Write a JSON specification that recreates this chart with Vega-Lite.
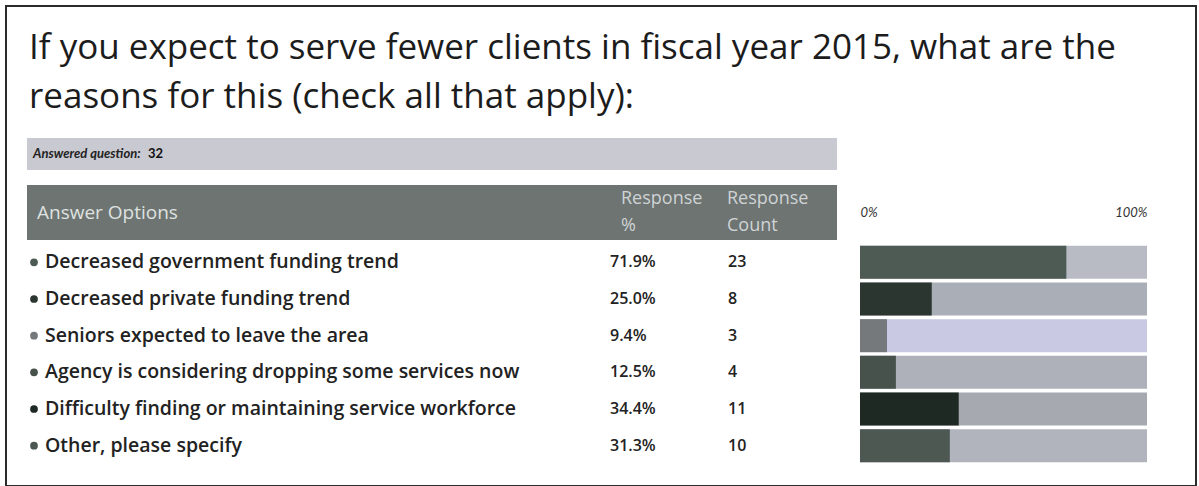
{
  "$schema": "https://vega.github.io/schema/vega-lite/v6.json",
  "width": 1199,
  "height": 486,
  "autosize": {"type": "fit", "contains": "padding"},
  "padding": {"left": 6, "top": 6, "right": 3, "bottom": 0},
  "background": "#ffffff",
  "config": {"view": {"stroke": "#2b2b2b", "strokeWidth": 2}, "font": "Open Sans"},
  "title": {
    "text": ["If you expect to serve fewer clients in fiscal year 2015, what are the", "reasons for this (check all that apply):"],
    "anchor": "start",
    "frame": "group",
    "dx": 23,
    "offset": -109,
    "fontSize": 35,
    "fontWeight": "normal",
    "font": "Open Sans",
    "color": "#1c1c1c",
    "lineHeight": 49
  },
  "datasets": {
    "rows": [
      {"option": "Decreased government funding trend", "pct": 0.719, "count": 23},
      {"option": "Decreased private funding trend", "pct": 0.25, "count": 8},
      {"option": "Seniors expected to leave the area", "pct": 0.094, "count": 3},
      {"option": "Agency is considering dropping some services now", "pct": 0.125, "count": 4},
      {"option": "Difficulty finding or maintaining service workforce", "pct": 0.344, "count": 11},
      {"option": "Other, please specify", "pct": 0.313, "count": 10}
    ],
    "answered": [{"label": "Answered question:", "answered": 32}],
    "header": [
      {"col": "Answer Options", "label": ["Answer Options"]},
      {"col": "Response %", "label": ["Response", "%"]},
      {"col": "Response Count", "label": ["Response", "Count"]}
    ]
  },
  "layer": [
    {
      "data": {"name": "answered"},
      "mark": {"type": "rect", "color": "#c9c9d1"},
      "encoding": {
        "x": {"field": "label", "type": "nominal", "scale": {"type": "band", "range": [21, 831], "paddingInner": 0, "paddingOuter": 0}, "axis": null},
        "y": {"field": "label", "type": "nominal", "scale": {"type": "band", "range": [132, 164], "paddingInner": 0, "paddingOuter": 0}, "axis": null}
      }
    },
    {
      "data": {"name": "answered"},
      "mark": {"type": "text", "align": "left", "baseline": "middle", "font": "Lato", "fontSize": 13, "fontStyle": "italic", "fontWeight": "bold", "color": "#222222"},
      "encoding": {
        "text": {"field": "label"},
        "x": {"field": "label", "type": "nominal", "scale": {"type": "point", "range": [27, 27]}, "axis": null},
        "y": {"field": "label", "type": "nominal", "scale": {"type": "point", "range": [148, 148]}, "axis": null}
      }
    },
    {
      "data": {"name": "answered"},
      "mark": {"type": "text", "align": "left", "baseline": "middle", "font": "Lato", "fontSize": 13, "fontWeight": "bold", "color": "#111111"},
      "encoding": {
        "text": {"field": "answered"},
        "x": {"field": "label", "type": "nominal", "scale": {"type": "point", "range": [142, 142]}, "axis": null},
        "y": {"field": "label", "type": "nominal", "scale": {"type": "point", "range": [148, 148]}, "axis": null}
      }
    },
    {
      "data": {"name": "header"},
      "mark": {"type": "rect", "color": "#6d7471"},
      "encoding": {
        "x": {"datum": "header", "type": "nominal", "scale": {"type": "band", "range": [21, 831], "paddingInner": 0, "paddingOuter": 0}, "axis": null},
        "y": {"datum": "header", "type": "nominal", "scale": {"type": "band", "range": [179, 234], "paddingInner": 0, "paddingOuter": 0}, "axis": null}
      }
    },
    {
      "data": {"name": "header"},
      "transform": [{"filter": "datum.col === 'Answer Options'"}],
      "mark": {"type": "text", "align": "left", "baseline": "middle", "fontSize": 19, "color": "#dfe2e0", "lineHeight": 27},
      "encoding": {
        "text": {"field": "label"},
        "x": {"field": "col", "type": "nominal", "scale": {"type": "point", "range": [31, 31]}, "axis": null},
        "y": {"field": "col", "type": "nominal", "scale": {"type": "point", "range": [207, 207]}, "axis": null}
      }
    },
    {
      "data": {"name": "header"},
      "transform": [{"filter": "datum.col === 'Response %'"}],
      "mark": {"type": "text", "align": "left", "baseline": "middle", "fontSize": 18, "color": "#cfd3d6", "lineHeight": 27},
      "encoding": {
        "text": {"field": "label"},
        "x": {"field": "col", "type": "nominal", "scale": {"type": "point", "range": [615, 615]}, "axis": null},
        "y": {"field": "col", "type": "nominal", "scale": {"type": "point", "range": [193, 193]}, "axis": null}
      }
    },
    {
      "data": {"name": "header"},
      "transform": [{"filter": "datum.col === 'Response Count'"}],
      "mark": {"type": "text", "align": "left", "baseline": "middle", "fontSize": 18, "color": "#cfd3d6", "lineHeight": 27},
      "encoding": {
        "text": {"field": "label"},
        "x": {"field": "col", "type": "nominal", "scale": {"type": "point", "range": [721, 721]}, "axis": null},
        "y": {"field": "col", "type": "nominal", "scale": {"type": "point", "range": [193, 193]}, "axis": null}
      }
    },
    {
      "data": {"name": "rows"},
      "encoding": {
        "y": {"field": "option", "type": "nominal", "sort": null, "scale": {"range": [238, 458], "paddingInner": 0.1, "paddingOuter": 0.05}, "axis": null}
      },
      "layer": [
        {
          "mark": {"type": "bar"},
          "encoding": {
            "x": {"datum": 1, "type": "quantitative", "scale": {"domain": [0, 1], "range": [854, 1141]},
                  "axis": {"orient": "top", "values": [0, 1], "format": ".0%", "labelFlush": true, "domain": false, "ticks": false, "tickSize": 0, "grid": false, "labelPadding": 0, "offset": -213, "title": null, "labelFontStyle": "italic", "labelFontSize": 13, "labelColor": "#333333", "labelFont": "Lato"}},
            "fill": {"field": "option", "type": "nominal", "sort": null,
                     "scale": {"domain": ["Decreased government funding trend", "Decreased private funding trend", "Seniors expected to leave the area", "Agency is considering dropping some services now", "Difficulty finding or maintaining service workforce", "Other, please specify"],
                               "range": ["#b8bbc4", "#aaaeb6", "#c9c9e3", "#aeb1b9", "#a6aab0", "#b1b4bd"]}, "legend": null}
          }
        },
        {
          "mark": {"type": "bar"},
          "encoding": {
            "x": {"field": "pct", "type": "quantitative", "scale": {"domain": [0, 1], "range": [854, 1141]}, "axis": null},
            "color": {"field": "option", "type": "nominal", "sort": null,
                      "scale": {"domain": ["Decreased government funding trend", "Decreased private funding trend", "Seniors expected to leave the area", "Agency is considering dropping some services now", "Difficulty finding or maintaining service workforce", "Other, please specify"],
                                "range": ["#4e5b54", "#2c3631", "#75797b", "#47524d", "#1f2924", "#4d5853"]}, "legend": null}
          }
        },
        {
          "mark": {"type": "point", "filled": true, "size": 60, "opacity": 1},
          "encoding": {
            "x": {"datum": "bullet", "type": "nominal", "scale": {"type": "point", "range": [28, 28]}, "axis": null},
            "color": {"field": "option", "type": "nominal", "sort": null, "legend": null}
          }
        },
        {
          "mark": {"type": "text", "align": "left", "baseline": "middle", "fontSize": 19.5, "fontWeight": 600, "color": "#222222"},
          "encoding": {
            "text": {"field": "option"},
            "x": {"datum": "Answer Options", "type": "nominal", "scale": {"type": "point", "range": [39, 39]}, "axis": null}
          }
        },
        {
          "mark": {"type": "text", "align": "left", "baseline": "middle", "fontSize": 16, "fontWeight": 600, "color": "#222222"},
          "encoding": {
            "text": {"field": "pct", "format": ".1%"},
            "x": {"datum": "Response %", "type": "nominal", "scale": {"type": "point", "range": [604, 604]}, "axis": null}
          }
        },
        {
          "mark": {"type": "text", "align": "left", "baseline": "middle", "fontSize": 16, "fontWeight": 600, "color": "#222222"},
          "encoding": {
            "text": {"field": "count"},
            "x": {"datum": "Response Count", "type": "nominal", "scale": {"type": "point", "range": [722, 722]}, "axis": null}
          }
        }
      ],
      "resolve": {"scale": {"x": "independent"}}
    }
  ],
  "resolve": {"scale": {"x": "independent", "y": "independent"}}
}
